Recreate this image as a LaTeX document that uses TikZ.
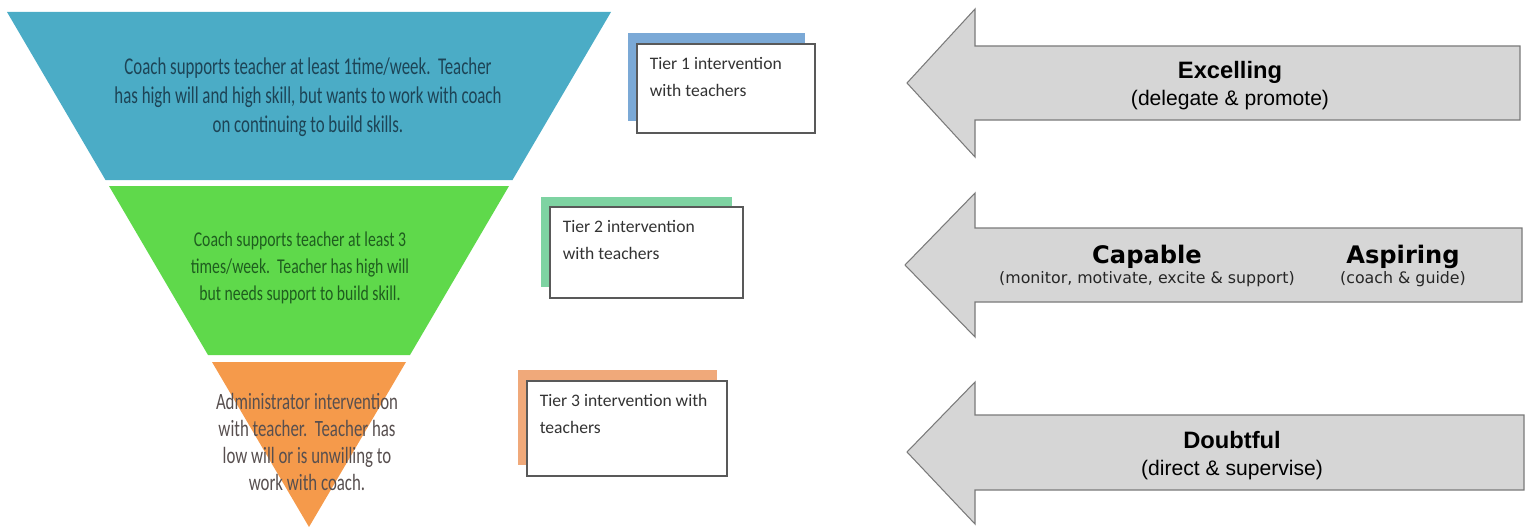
\documentclass[tikz,border=0pt]{standalone}
\usepackage{fontspec}
\setmainfont{Carlito}
\newfontfamily\arialfont{Liberation Sans}
\newfontfamily\dejafont{DejaVu Sans}
\usetikzlibrary{positioning}
\definecolor{tierblue}{HTML}{4BACC6}
\definecolor{tiergreen}{HTML}{5FD94B}
\definecolor{tierorange}{HTML}{F59A4B}
\definecolor{bluetext}{HTML}{1D4456}
\definecolor{greentext}{HTML}{1F5E1F}
\definecolor{orangetext}{HTML}{574F4F}
\definecolor{shadeblue}{HTML}{7BA9D6}
\definecolor{shadegreen}{HTML}{7ED3A2}
\definecolor{shadeorange}{HTML}{F0A97A}
\definecolor{arrowfill}{HTML}{D6D6D6}
\definecolor{arrowline}{HTML}{7A7A7A}

\begin{document}
\begin{tikzpicture}[x=0.02cm,y=-0.02cm]
\tikzstyle{layer text}=[align=center,inner sep=0]
\tikzstyle{shade box}=[rectangle,inner sep=0]
\tikzstyle{tier box}=[rectangle,draw=black!65,fill=white,line width=0.7pt,inner sep=0]
\tikzstyle{tier text}=[align=left,inner sep=0,font=\fontsize{10}{15.3}\selectfont,text=black!80]
\tikzset{
  arrow body/.style = {fill=arrowfill,draw=arrowline,line width=0.6pt},
  level head/.style = {font=\arialfont\bfseries\fontsize{13.5}{16}\selectfont,inner sep=0,anchor=base},
  level sub/.style = {font=\arialfont\fontsize{12}{14}\selectfont,inner sep=0,anchor=base},
  stage head/.style = {font=\dejafont\bfseries\fontsize{13.75}{16}\selectfont,inner sep=0,anchor=base},
  stage sub/.style = {font=\dejafont\fontsize{9}{11}\selectfont,inner sep=0,anchor=base,text=black!85}
}

\useasboundingbox (0,0) rectangle (1527,527);

% funnel
\fill[tierblue] (7,12) -- (611,12) -- (512.5,180) -- (105.5,180) -- cycle;
\fill[tiergreen] (109,186) -- (509,186) -- (410,355) -- (208,355) -- cycle;
\fill[tierorange] (212,362) -- (406,362) -- (309,527) -- cycle;

    \node[layer text,text=bluetext,xscale=0.7,font=\fontsize{13.7}{16.6}\selectfont] (bluetxt) at (308,97)
        {Coach supports teacher at least 1time/week.\ \ Teacher\\has high will and high skill, but wants to work with coach\\on continuing to build skills.};
    \node[layer text,text=greentext,xscale=0.745,font=\fontsize{12}{15.5}\selectfont] (greentxt) at (300,268)
        {Coach supports teacher at least 3\\times/week.\ \ Teacher has high will\\but needs support to build skill.};
    \node[layer text,text=orangetext,xscale=0.72,font=\fontsize{13.3}{15.4}\selectfont] (orangetxt) at (307,442)
        {Administrator intervention\\with teacher.\ \ Teacher has\\low will or is unwilling to\\work with coach.};

% tier cards
    \node[shade box,fill=shadeblue,minimum width=3.54cm,minimum height=1.76cm] (s1) at (716.5,77) {};
    \node[tier box,minimum width=3.56cm,minimum height=1.78cm] (t1) at (726,88.5) {};
    \node[tier text] (t1txt) [below right=0.28cm and 0.26cm of t1.north west] {Tier 1 intervention\\with teachers};

    \node[shade box,fill=shadegreen,minimum width=3.82cm,minimum height=1.8cm] (s2) at (636.5,242) {};
    \node[tier box,minimum width=3.86cm,minimum height=1.82cm] (t2) at (646.5,252.5) {};
    \node[tier text] (t2txt) [below right=0.28cm and 0.26cm of t2.north west] {Tier 2 intervention\\with teachers};

    \node[shade box,fill=shadeorange,minimum width=3.98cm,minimum height=1.9cm] (s3) at (617.5,417.5) {};
    \node[tier box,minimum width=4cm,minimum height=1.9cm] (t3) at (627,428.5) {};
    \node[tier text] (t3txt) [below right=0.28cm and 0.26cm of t3.north west] {Tier 3 intervention with\\teachers};

% arrows
\draw[arrow body] (907,83) -- (975,9) -- (975,46) -- (1520,46) -- (1520,120) -- (975,120) -- (975,157) -- cycle;
\draw[arrow body] (905,265) -- (975,193) -- (975,228) -- (1522,228) -- (1522,302) -- (975,302) -- (975,337) -- cycle;
\draw[arrow body] (907,452) -- (975,382) -- (975,415) -- (1524,415) -- (1524,490) -- (975,490) -- (975,524) -- cycle;

    \node[level head] (excel) at (1230,78.5) {Excelling};
    \node[level sub] (excelsub) at (1230,105.5) {(delegate \& promote)};
    \node[stage head] (capable) at (1147,263) {Capable};
    \node[stage sub] (capablesub) at (1147,283.5) {(monitor, motivate, excite \& support)};
    \node[stage head] (aspiring) at (1403,263) {Aspiring};
    \node[stage sub] (aspiringsub) at (1403,283.5) {(coach \& guide)};
    \node[level head] (doubt) at (1232,448.5) {Doubtful};
    \node[level sub] (doubtsub) at (1232,475.5) {(direct \& supervise)};
\end{tikzpicture}
\end{document}
